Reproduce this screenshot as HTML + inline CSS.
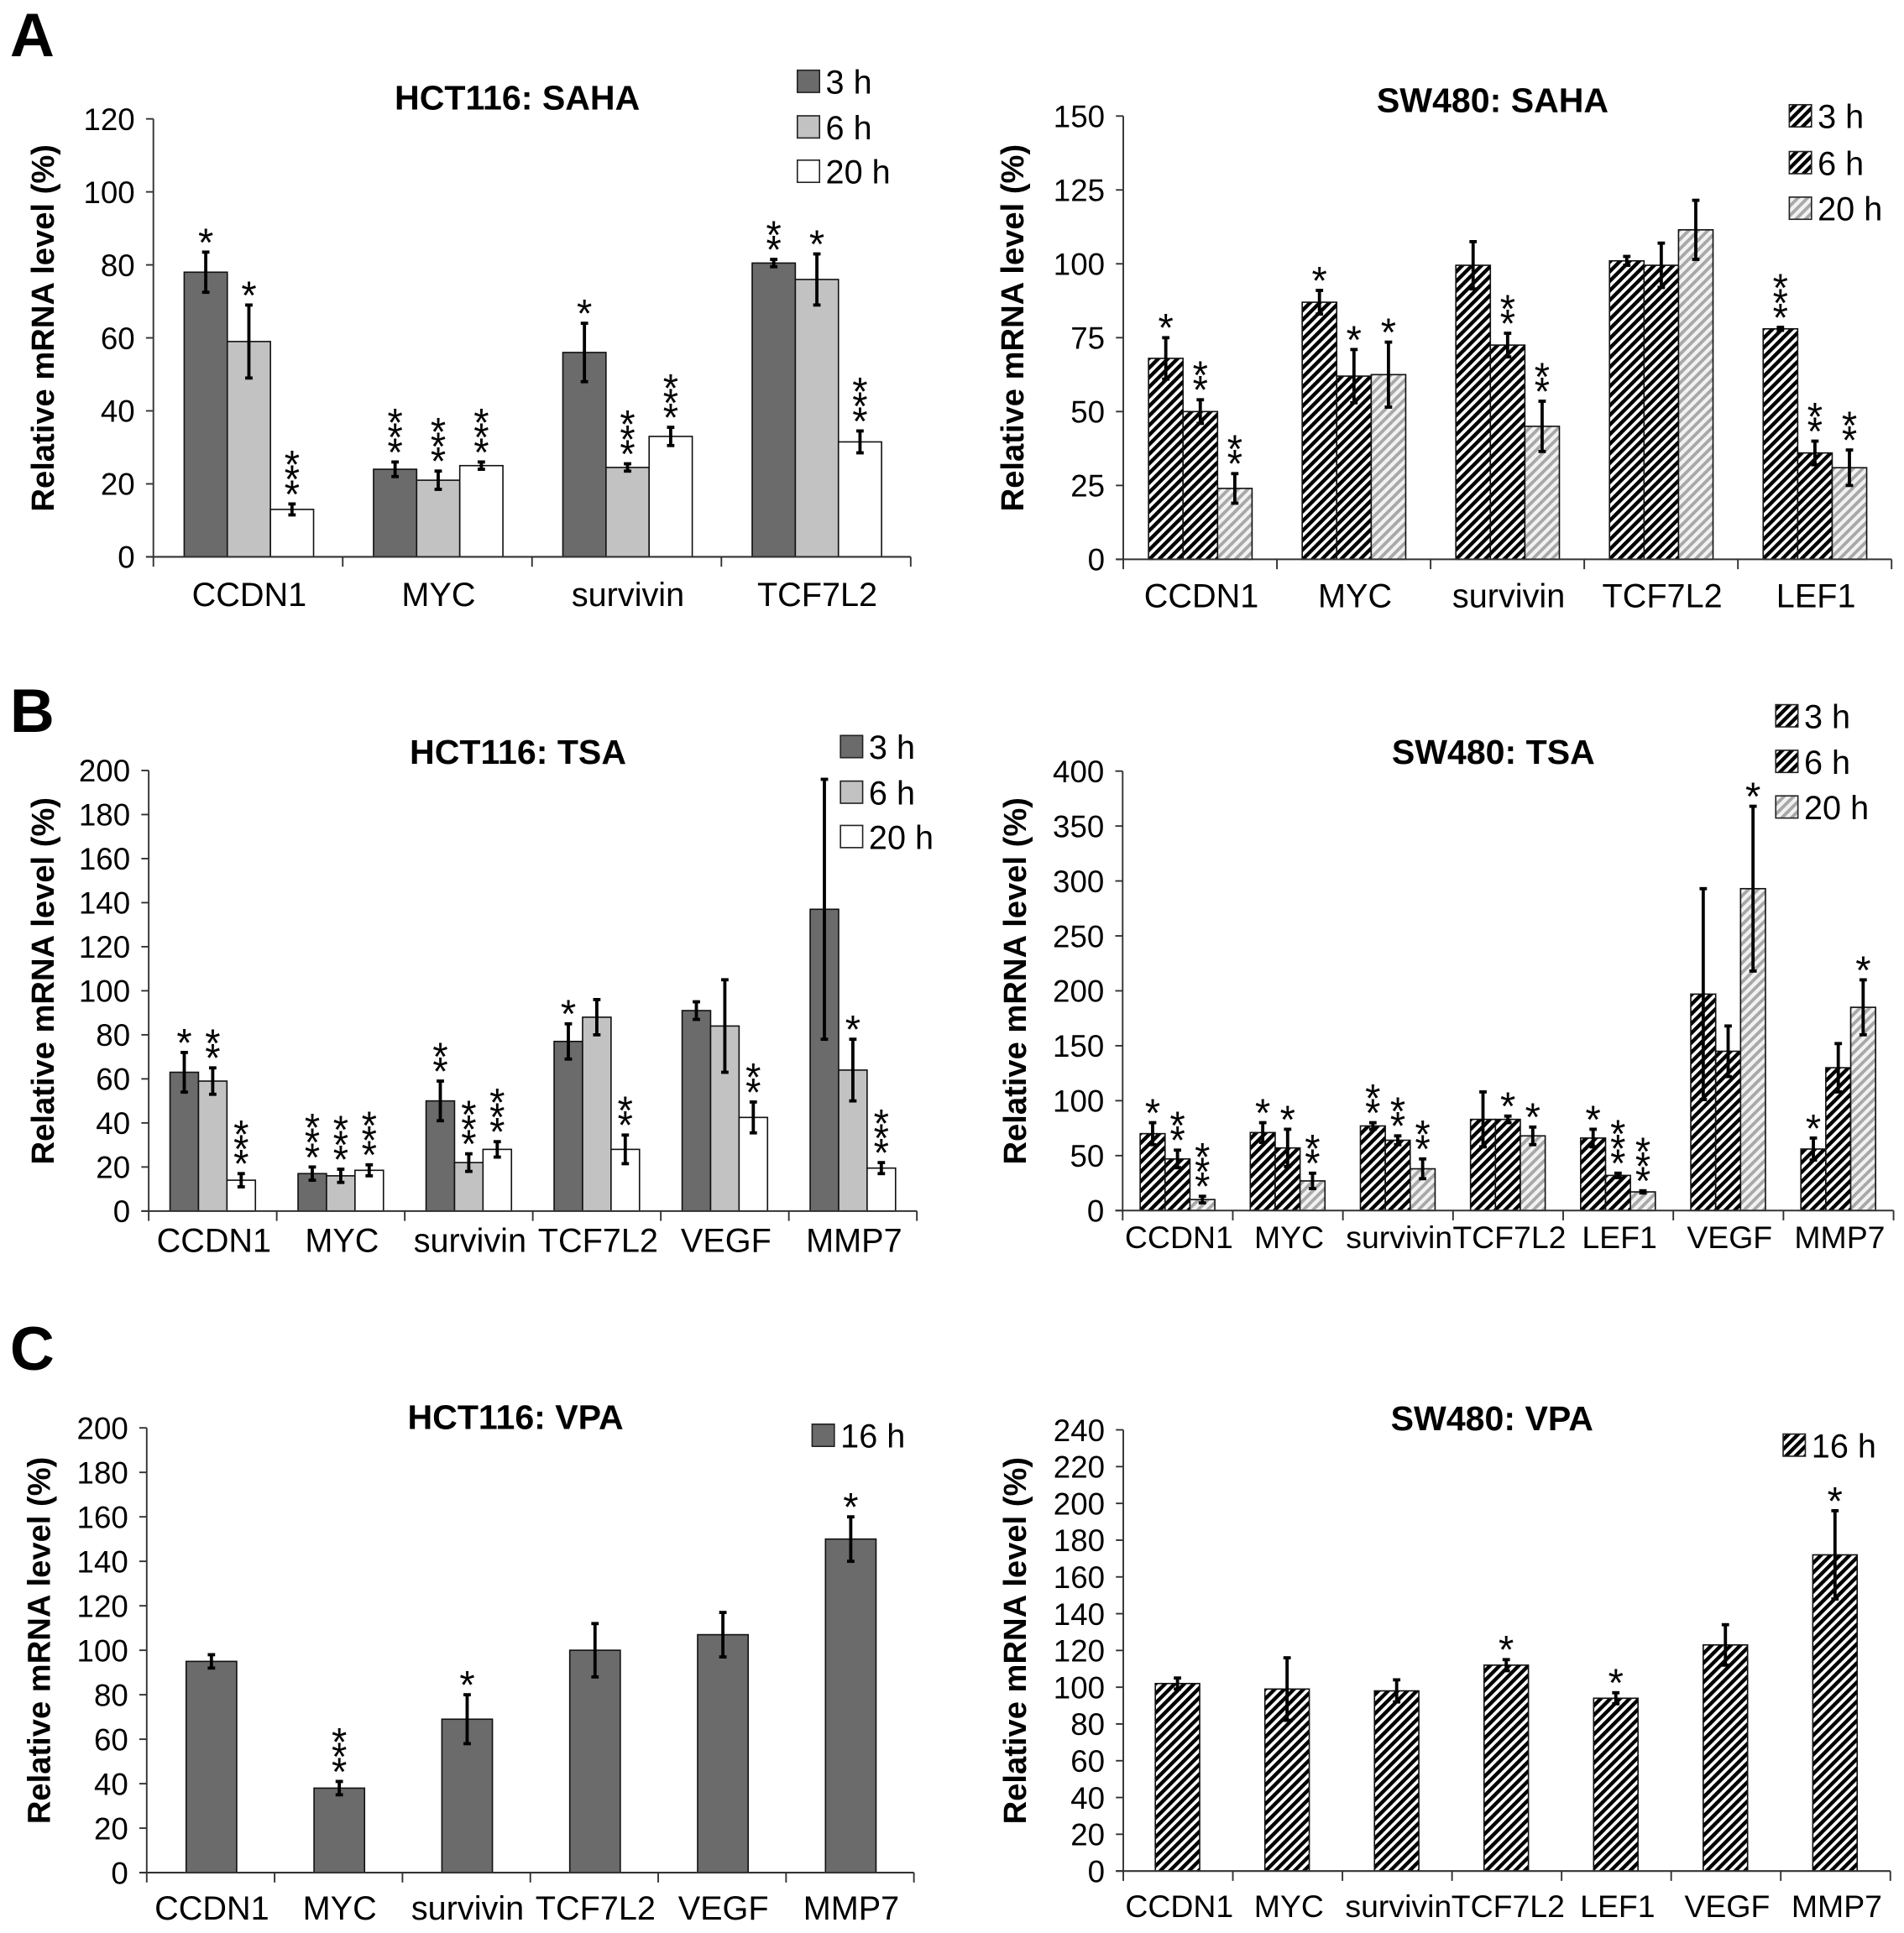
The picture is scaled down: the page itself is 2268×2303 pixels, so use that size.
<!DOCTYPE html>
<html><head><meta charset="utf-8">
<style>
html,body{margin:0;padding:0;background:#fff;}
svg{display:block;}
text{font-family:"Liberation Sans",Arial,sans-serif;fill:#000;}
</style></head>
<body>
<svg id="fig" width="2268" height="2303" viewBox="0 0 1545 1569" xmlns="http://www.w3.org/2000/svg">
<defs>
<pattern id="hatchDark" patternUnits="userSpaceOnUse" width="5.5" height="5.5" patternTransform="rotate(45)">
<rect width="5.5" height="5.5" fill="#fff"/><rect width="3" height="5.5" fill="#000"/>
</pattern>
<pattern id="hatchLight" patternUnits="userSpaceOnUse" width="5.5" height="5.5" patternTransform="rotate(45)">
<rect width="5.5" height="5.5" fill="#f2f2f2"/><rect width="2.6" height="5.5" fill="#a8a8a8"/>
</pattern>
</defs>
<text x="8" y="45.5" font-size="50" font-weight="bold">A</text>
<text x="8" y="594" font-size="50" font-weight="bold">B</text>
<text x="8" y="1112" font-size="50" font-weight="bold">C</text>
</svg>
<script>
// ---------- data ----------
const catsAL = ["CCDN1","MYC","survivin","TCF7L2"];
const valsAL_3h = [78,24,56,80.5];
const errsAL_3h = [5.5,2,8,1];
const valsAL_6h = [59,21,24.5,76];
const errsAL_6h = [10,2.5,1,7];
const valsAL_20h = [13,25,33,31.5];
const errsAL_20h = [1.5,1,2.5,3];
const starsAL_3h = [1,3,1,2];
const starsAL_6h = [1,3,3,1];
const starsAL_20h = [3,3,3,3];
const ticksAL = [0,20,40,60,80,100,120];

const catsAR = ["CCDN1","MYC","survivin","TCF7L2","LEF1"];
const valsAR_3h = [68,87,99.5,101,78];
const errsAR_3h = [7,4,8,1.5,0.5];
const valsAR_6h = [50,62,72.5,99.5,36];
const errsAR_6h = [4,9,4,7.5,4];
const valsAR_20h = [24,62.5,45,111.5,31];
const errsAR_20h = [5,11,8.5,10,6];
const starsAR_3h = [1,1,0,0,3];
const starsAR_6h = [2,1,2,0,2];
const starsAR_20h = [2,1,2,0,2];
const ticksAR = [0,25,50,75,100,125,150];

const catsBL = ["CCDN1","MYC","survivin","TCF7L2","VEGF","MMP7"];
const valsBL_3h = [63,17,50,77,91,137];
const errsBL_3h = [9,3,9,8,4,59];
const valsBL_6h = [59,16,22,88,84,64];
const errsBL_6h = [6,3,4,8,21,14];
const valsBL_20h = [14,18.5,28,28,42.5,19.5];
const errsBL_20h = [3,2.5,3.5,6.5,7,2.5];
const starsBL_3h = [1,3,2,1,0,0];
const starsBL_6h = [2,3,3,0,0,1];
const starsBL_20h = [3,3,3,2,2,3];
const ticksBL = [0,20,40,60,80,100,120,140,160,180,200];

const catsBR = ["CCDN1","MYC","survivin","TCF7L2","LEF1","VEGF","MMP7"];
const valsBR_3h = [70,71,77,83,66,197,56];
const errsBR_3h = [10,9,3,25,8,96,10];
const valsBR_6h = [47,57,64,83,32,145,130];
const errsBR_6h = [8,17,4,3,2,23,22];
const valsBR_20h = [10,27,38,68,17,293,185];
const errsBR_20h = [3,7,9,8,1,75,25];
const starsBR_3h = [1,1,2,0,1,0,1];
const starsBR_6h = [2,1,2,1,3,0,0];
const starsBR_20h = [3,2,2,1,3,1,1];
const ticksBR = [0,50,100,150,200,250,300,350,400];

const catsCL = ["CCDN1","MYC","survivin","TCF7L2","VEGF","MMP7"];
const valsCL_16h = [95,38,69,100,107,150];
const errsCL_16h = [3,3,11,12,10,10];
const starsCL_16h = [0,3,1,0,0,1];
const ticksCL = [0,20,40,60,80,100,120,140,160,180,200];

const catsCR = ["CCDN1","MYC","survivin","TCF7L2","LEF1","VEGF","MMP7"];
const valsCR_16h = [102,99,98,112,94,123,172];
const errsCR_16h = [3,17,6,3,3,11,24];
const starsCR_16h = [0,0,0,1,1,0,1];
const ticksCR = [0,20,40,60,80,100,120,140,160,180,200,220,240];

// ---------- drawing ----------
const NS = "http://www.w3.org/2000/svg";
const svg = document.getElementById("fig");
function mk(tag, attrs, parent, txt) {
  const e = document.createElementNS(NS, tag);
  for (const k in attrs) e.setAttribute(k, attrs[k]);
  if (txt !== undefined) e.textContent = txt;
  (parent || svg).appendChild(e);
  return e;
}
const fills = {dark:"#6b6b6b", light:"#c2c2c2", white:"#ffffff", hd:"url(#hatchDark)", hl:"url(#hatchLight)"};

function chart(cfg) {
  const g = mk("g", {});
  
  
  const ymax = cfg.ticks[cfg.ticks.length - 1];
  const yS = v => cfg.y0 - (v / ymax) * (cfg.y0 - cfg.yTop);
  const n = cfg.cats.length;
  const cw = (cfg.x1 - cfg.x0) / n;
  const xS = (i, s) => cfg.x0 + i * cw + cfg.off + s * cfg.bw;

  const t = mk("text", {x:(cfg.x0 + cfg.x1) / 2 - 12, y:cfg.titleY, "font-size":28, "font-weight":"bold", "text-anchor":"middle"}, g, cfg.title);
  
  
  const my = (cfg.y0 + cfg.yTop) / 2 - 8;
  const yt = mk("text", {x:cfg.ytx, y:my, "font-size":26, "font-weight":"bold", "text-anchor":"middle", "dominant-baseline":"central", transform:`rotate(-90 ${cfg.ytx} ${my})`}, g, "Relative mRNA level (%)");
  
  
  cfg.ticks.forEach(v => {
    const y = yS(v);
    const tk = mk("line", {x1:cfg.x0 - 6, x2:cfg.x0, y1:y, y2:y, stroke:"#333", "stroke-width":1.3}, g);
    
    
    const tl = mk("text", {x:cfg.x0 - 15, y:y + 9, "font-size":25, "text-anchor":"end"}, g, String(v));
    
    
  });
  cfg.series.forEach((s, si) => {
    s.vals.forEach((v, i) => {
      const x = xS(i, si), y = yS(v);
      const r = mk("rect", {x:x, y:y, width:cfg.bw, height:cfg.y0 - y, fill:fills[s.fill], stroke:"#111", "stroke-width":1.1}, g);
      
      
    });
  });
  cfg.series.forEach((s, si) => {
    s.vals.forEach((v, i) => {
      const cx = xS(i, si) + cfg.bw / 2;
      const top = yS(v + s.errs[i]), bot = yS(Math.max(0, v - s.errs[i]));
      const eg = mk("g", {stroke:"#000", "stroke-width":2.6}, g);
      
      
      mk("line", {x1:cx, x2:cx, y1:top, y2:bot}, eg);
      mk("line", {x1:cx - 3, x2:cx + 3, y1:top, y2:top}, eg);
      mk("line", {x1:cx - 3, x2:cx + 3, y1:bot, y2:bot}, eg);
      const ns = s.stars[i];
      for (let k = 0; k < ns; k++) {
        const c = top - 15 - k * 12;
        const st = mk("text", {x:cx, y:c + 18, "font-size":32, "text-anchor":"middle"}, g, "*");
        
        
      }
    });
  });
  const ya = mk("line", {x1:cfg.x0, x2:cfg.x0, y1:cfg.yTop, y2:cfg.y0, stroke:"#333", "stroke-width":1.3}, g);
  
  
  const xa = mk("line", {x1:cfg.x0 - 6, x2:cfg.x1, y1:cfg.y0, y2:cfg.y0, stroke:"#333", "stroke-width":1.4}, g);
  
  
  for (let i = 0; i <= n; i++) {
    const x = cfg.x0 + i * cw;
    const xt = mk("line", {x1:x, x2:x, y1:cfg.y0, y2:cfg.y0 + 8, stroke:"#333", "stroke-width":1.3}, g);
    
    
  }
  cfg.cats.forEach((c, i) => {
    const cl = mk("text", {x:cfg.x0 + (i + 0.5) * cw + 1, y:cfg.catY, "font-size":cfg.catFont || 27, "text-anchor":"middle"}, g, c);
    
    
  });
  cfg.series.forEach((s, si) => {
    const ly = cfg.legY[si];
    const lg = mk("g", {}, g);
    
    
    mk("rect", {x:cfg.legX, y:ly - 9, width:18, height:18, fill:fills[s.fill], stroke:"#222", "stroke-width":1.1}, lg);
    mk("text", {x:cfg.legX + 23, y:ly + 10, "font-size":27}, lg, s.label);
  });
}

chart({name:"chart-hct116-saha", title:"HCT116: SAHA", cats:catsAL, ticks:ticksAL,
  x0:124.4, x1:739, y0:452, yTop:96.5, bw:35, off:25, titleY:89, catY:492, ytx:35,
  legX:647, legY:[66,103,139],
  series:[{label:"3 h", fill:"dark", vals:valsAL_3h, errs:errsAL_3h, stars:starsAL_3h},
          {label:"6 h", fill:"light", vals:valsAL_6h, errs:errsAL_6h, stars:starsAL_6h},
          {label:"20 h", fill:"white", vals:valsAL_20h, errs:errsAL_20h, stars:starsAL_20h}]});

chart({name:"chart-sw480-saha", title:"SW480: SAHA", cats:catsAR, ticks:ticksAR,
  x0:911.5, x1:1535, y0:454, yTop:94.2, bw:28, off:20.5, titleY:91, catY:493, ytx:822,
  legX:1452, legY:[94,132,169],
  series:[{label:"3 h", fill:"hd", vals:valsAR_3h, errs:errsAR_3h, stars:starsAR_3h},
          {label:"6 h", fill:"hd", vals:valsAR_6h, errs:errsAR_6h, stars:starsAR_6h},
          {label:"20 h", fill:"hl", vals:valsAR_20h, errs:errsAR_20h, stars:starsAR_20h}]});

chart({name:"chart-hct116-tsa", title:"HCT116: TSA", cats:catsBL, ticks:ticksBL,
  x0:120.6, x1:744, y0:983, yTop:625.4, bw:23.1, off:17.3, titleY:620, catY:1016, ytx:35,
  legX:682, legY:[606,643,679],
  series:[{label:"3 h", fill:"dark", vals:valsBL_3h, errs:errsBL_3h, stars:starsBL_3h},
          {label:"6 h", fill:"light", vals:valsBL_6h, errs:errsBL_6h, stars:starsBL_6h},
          {label:"20 h", fill:"white", vals:valsBL_20h, errs:errsBL_20h, stars:starsBL_20h}]});

chart({name:"chart-sw480-tsa", title:"SW480: TSA", cats:catsBR, ticks:ticksBR,
  x0:911, x1:1536.6, y0:982.6, yTop:625.9, bw:20.2, off:14.2, titleY:620, catY:1013, ytx:824, catFont:25.5,
  legX:1441, legY:[581,618,655],
  series:[{label:"3 h", fill:"hd", vals:valsBR_3h, errs:errsBR_3h, stars:starsBR_3h},
          {label:"6 h", fill:"hd", vals:valsBR_6h, errs:errsBR_6h, stars:starsBR_6h},
          {label:"20 h", fill:"hl", vals:valsBR_20h, errs:errsBR_20h, stars:starsBR_20h}]});

chart({name:"chart-hct116-vpa", title:"HCT116: VPA", cats:catsCL, ticks:ticksCL,
  x0:119, x1:741.6, y0:1520, yTop:1159, bw:41, off:32, titleY:1160, catY:1558, ytx:32,
  legX:659, legY:[1165],
  series:[{label:"16 h", fill:"dark", vals:valsCL_16h, errs:errsCL_16h, stars:starsCL_16h}]});

chart({name:"chart-sw480-vpa", title:"SW480: VPA", cats:catsCR, ticks:ticksCR,
  x0:911.5, x1:1534, y0:1518.7, yTop:1160.6, bw:36, off:26, titleY:1161, catY:1556, ytx:824, catFont:25.5,
  legX:1447, legY:[1173],
  series:[{label:"16 h", fill:"hd", vals:valsCR_16h, errs:errsCR_16h, stars:starsCR_16h}]});
</script>
</body></html>
